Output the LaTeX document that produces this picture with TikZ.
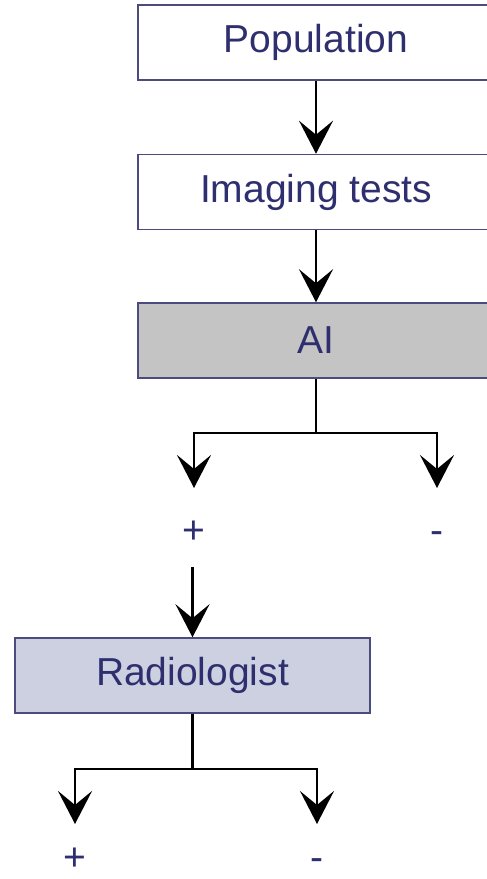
\documentclass[tikz,border=0pt]{standalone}
\usepackage{fontspec}
\setmainfont{Liberation Sans}
\usetikzlibrary{arrows.meta}
\definecolor{txt}{HTML}{2F2F6F}
\definecolor{edge}{HTML}{4B4B7D}
\definecolor{aifill}{HTML}{C4C4C4}
\definecolor{radfill}{HTML}{CDD0E0}
\tikzset{
  box/.style={draw=edge, line width=1.5pt, minimum height=75pt, text=txt,
    font=\fontsize{39}{42}\selectfont, inner sep=0pt},
  sign/.style={text=txt, font=\fontsize{39}{42}\selectfont, inner sep=0pt},
  arr/.style={-{Stealth[length=33pt, width=34pt, inset=14pt]}, line width=2.8pt, black},
  link/.style={line width=2.8pt, black}
}
\begin{document}
\begin{tikzpicture}[x=1pt, y=1pt]
\clip (0,0) rectangle (487,-879);
\fill[white] (0,0) rectangle (487,-879);
% main chain
\node[box, fill=white, minimum width=356pt] (pop) at (316,-42.5) {Population};
\node[box, fill=white, minimum width=356pt] (img) at (316,-192) {Imaging tests};
\node[box, fill=aifill, minimum width=356pt] (ai) at (316,-340.5) {AI};
\draw[arr] (pop.south) -- (img.north);
\draw[arr] (img.south) -- (ai.north);
% AI split
\coordinate (aj) at (316,-433);
\coordinate (aL) at (194,-488);
\coordinate (aR) at (437,-488);
\draw[link] (ai.south) -- (aj);
\draw[arr] (aj) -| (aL);
\draw[arr] (aj) -| (aR);
\node[sign] (p1) at (194,-532) {+};
\node[sign] (m1) at (437,-538) {-};
% radiologist
\node[box, fill=radfill, minimum width=355pt] (rad) at (192.5,-675.5) {Radiologist};
\coordinate (rs) at (192.5,-567);
\draw[arr] (rs) -- (rad.north);
\coordinate (rj) at (192.5,-769);
\coordinate (rL) at (75,-824);
\coordinate (rR) at (317,-824);
\draw[link] (rad.south) -- (rj);
\draw[arr] (rj) -| (rL);
\draw[arr] (rj) -| (rR);
\node[sign] (p2) at (75,-859) {+};
\node[sign] (m2) at (317,-865) {-};
\end{tikzpicture}
\end{document}
